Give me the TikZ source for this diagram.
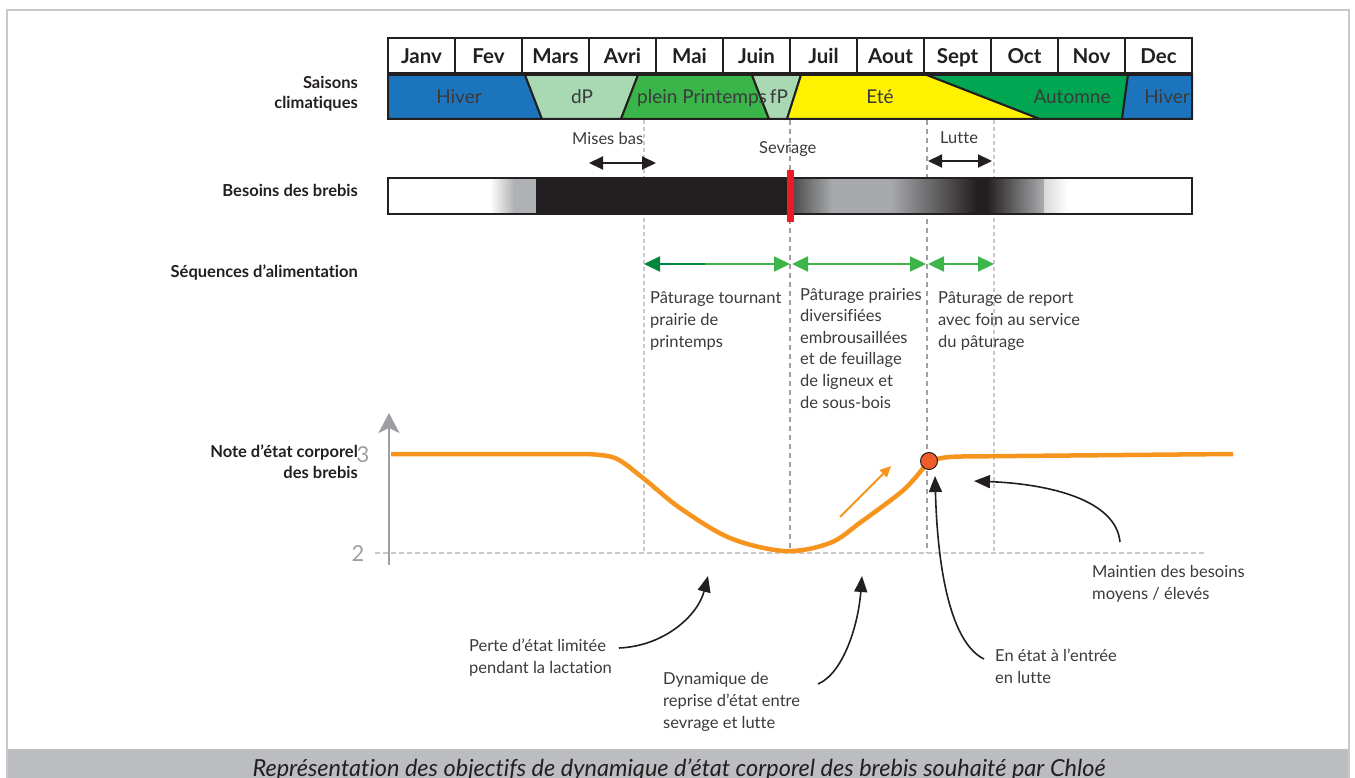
\documentclass[tikz,border=0pt]{standalone}
\usepackage{fontspec}
\setmainfont{Lato}[Ligatures=NoCommon]
\usetikzlibrary{arrows.meta}
\definecolor{hiverblue}{HTML}{1C75BC}
\definecolor{paleGreen}{HTML}{A8D9B3}
\definecolor{springGreen}{HTML}{3AB54A}
\definecolor{summerYellow}{HTML}{FFF200}
\definecolor{autumnGreen}{HTML}{00A651}
\definecolor{barBlack}{HTML}{231F20}
\definecolor{midGray}{HTML}{A7A9AC}
\definecolor{orangeCurve}{HTML}{F7941D}
\definecolor{dotRed}{HTML}{F15A29}
\definecolor{sevRed}{HTML}{ED1C24}
\definecolor{txtGray}{HTML}{3A3A3A}
\definecolor{darkGreenA}{HTML}{00873E}
\definecolor{lightGreenA}{HTML}{3DB54A}
\definecolor{capGray}{HTML}{BCBDC0}
\definecolor{frameGray}{HTML}{C8C8C8}
\definecolor{axisGray}{HTML}{9D9FA2}
\begin{document}
\begin{tikzpicture}[x=1pt,y=-1pt,
  monthlbl/.style={font=\fontsize{20.5}{22}\selectfont\bfseries, text=barBlack, anchor=base, inner sep=0},
  seasonlbl/.style={font=\fontsize{19}{21}\selectfont, text=txtGray, anchor=base, inner sep=0},
  rowlbl/.style={font=\fontsize{16.5}{20}\selectfont\bfseries, text=barBlack, align=right, anchor=base east, inner sep=0},
  desc/.style={font=\fontsize{16.5}{21.6}\selectfont, text=txtGray, align=left, anchor=base west, inner sep=0},
  annot/.style={-{Triangle[length=16pt,width=13pt]}, line width=1.6pt, barBlack},
  dbl/.style={{Triangle[length=14pt,width=13pt]}-{Triangle[length=14pt,width=13pt]}, line width=2pt, barBlack},
  lightdash/.style={draw=frameGray, line width=1.5pt, dash pattern=on 4pt off 3pt},
  darkdash/.style={draw=gray!75, line width=2.5pt, dash pattern=on 5pt off 4pt},
  seasonbox/.style={draw=barBlack, line width=2pt},
  grn/.style={line width=2.3pt, -{Triangle[length=16pt,width=15pt]}},
  grn2/.style={line width=2.3pt, {Triangle[length=16pt,width=15pt]}-{Triangle[length=16pt,width=15pt]}, draw=lightGreenA}
]
\useasboundingbox (0,0) rectangle (1355,778);
\clip (0,0) rectangle (1355,778);

% frame and caption band
\fill[capGray] (7,749) rectangle (1349,790);
\draw[frameGray, line width=1.5pt] (7,790) -- (7,10) -- (1349,10) -- (1349,790);
\node[font=\fontsize{23.5}{25}\selectfont\itshape, text=barBlack, anchor=base, inner sep=0] (caption) at (679,776)
  {Représentation des objectifs de dynamique d’état corporel des brebis souhaité par Chloé};

% row labels
\node[rowlbl] (lblSaisons) at (358,109) {Saisons\\climatiques};
\node[rowlbl] (lblBesoins) at (358,196.5) {Besoins des brebis};
\node[rowlbl] (lblSeq) at (358,277) {Séquences d’alimentation};
\node[rowlbl, font=\fontsize{16.5}{21}\selectfont\bfseries] (lblNote) at (358,478) {Note d’état corporel\\des brebis};

% months
\foreach \m [count=\i from 0] in {Janv,Fev,Mars,Avri,Mai,Juin,Juil,Aout,Sept,Oct,Nov,Dec}{
  \draw[fill=white, draw=barBlack, line width=2pt] (388+67*\i,38) rectangle ++(67,35);
  \node[monthlbl] (month\i) at (421.5+67*\i,63.5) {\m};
}

% seasons
\draw[seasonbox, fill=hiverblue] (388,75) -- (525,75) -- (542,119) -- (388,119) -- cycle;
\draw[seasonbox, fill=paleGreen] (525,75) -- (638,75) -- (621,119) -- (542,119) -- cycle;
\draw[seasonbox, fill=springGreen] (638,75) -- (752,75) -- (769,119) -- (621,119) -- cycle;
\draw[seasonbox, fill=paleGreen] (752,75) -- (801,75) -- (787,119) -- (769,119) -- cycle;
\draw[seasonbox, fill=summerYellow] (801,75) -- (927,75) -- (1040,119) -- (787,119) -- cycle;
\draw[seasonbox, fill=autumnGreen] (927,75) -- (1128,75) -- (1122,119) -- (1040,119) -- cycle;
\draw[seasonbox, fill=hiverblue] (1128,75) -- (1192,75) -- (1192,119) -- (1122,119) -- cycle;
\draw[draw=barBlack, line width=2.5pt] (388,75) rectangle (1192,119);
\node[seasonlbl] (sHiver1) at (459,103.5) {Hiver};
\node[seasonlbl] (sDP) at (582,103.5) {dP};
\node[seasonlbl] (sPP) at (702,103.5) {plein Printemps};
\node[seasonlbl] (sFP) at (779,103.5) {fP};
\node[seasonlbl] (sEte) at (880,103.5) {Eté};
\node[seasonlbl] (sAut) at (1072,103.5) {Automne};
\node[seasonlbl] (sHiver2) at (1167,103.5) {Hiver};

% event labels
\node[desc] (misesbas) at (572,145) {Mises bas};
\node[desc] (sevrage) at (759,154) {Sevrage};
\node[desc] (lutte) at (940,144) {Lutte};

% vertical dashed lines
\draw[lightdash] (644,120) -- (644,553);
\draw[darkdash] (790,120) -- (790,553);
\draw[darkdash] (927,120) -- (927,553);
\draw[lightdash] (994,120) -- (994,553);
\draw[draw=frameGray, line width=1.5pt, dash pattern=on 5pt off 3pt] (375,553) -- (1205,553);

% besoins bar
\fill[white] (388,178) rectangle (490,214);
\shade[left color=white, right color=midGray!90] (490,178) rectangle (514,214);
\fill[midGray!90] (514,178) rectangle (536,214);
\fill[barBlack] (536,178) rectangle (791,214);
\shade[left color=black!72, right color=midGray] (791,178) rectangle (832,214);
\fill[midGray] (832,178) rectangle (890,214);
\shade[left color=midGray, right color=barBlack] (890,178) rectangle (977,214);
\fill[barBlack] (977,178) rectangle (987,214);
\shade[left color=barBlack, right color=midGray] (987,178) rectangle (1043,214);
\shade[left color=black!15, right color=white] (1044,178) rectangle (1068,214);
\fill[white] (1068,178) rectangle (1192,214);
\draw[midGray, line width=0.8pt] (1043.5,178) -- (1043.5,214);
\draw[barBlack, line width=2pt] (388,178) rectangle (1192,214);
\fill[sevRed] (787,170) rectangle (794,222);

% double arrows
\coordinate (mbL) at (589,163); \coordinate (mbR) at (656,163);
\coordinate (luL) at (928,161); \coordinate (luR) at (992,161);
\draw[dbl] (mbL) -- (mbR);
\draw[dbl] (luL) -- (luR);

% feeding sequences
\coordinate (g0) at (644,264); \coordinate (gm) at (705,264); \coordinate (g1) at (790,264);
\coordinate (g1b) at (792,264); \coordinate (g2) at (926,264); \coordinate (g2b) at (928,264); \coordinate (g3) at (994,264);
\draw[grn, draw=darkGreenA, fill=darkGreenA] (gm) -- (g0);
\draw[grn, draw=lightGreenA, fill=lightGreenA] (gm) -- (g1);
\draw[grn2, fill=lightGreenA] (g1b) -- (g2);
\draw[grn2, fill=lightGreenA] (g2b) -- (g3);

\node[desc] (seq1) at (650,347) {Pâturage tournant\\prairie de\\printemps};
\node[desc] (seq2) at (800,408) {Pâturage prairies\\diversifiées\\embrousaillées\\et de feuillage\\de ligneux et\\de sous-bois};
\node[desc] (seq3) at (938,347) {Pâturage de report\\avec foin au service\\du pâturage};

% axis
\coordinate (axB) at (389,565); \coordinate (axT) at (389,413);
\draw[axisGray, line width=2.5pt, -{Stealth[length=20pt,width=21pt,inset=5pt]}] (axB) -- (axT);
\node[font=\fontsize{22}{24}\selectfont, text=axisGray, anchor=base, inner sep=0] (tick3) at (363,462) {3};
\node[font=\fontsize{22}{24}\selectfont, text=axisGray, anchor=base, inner sep=0] (tick2) at (358,561) {2};

% body condition curve
\draw[orangeCurve, line width=4.5pt, line join=round]
  (391,454) -- (585,454)
  plot[smooth, tension=0.55] coordinates {(585,454) (615,458) (643,478) (680,508) (730,538) (785,551) (830,543) (861,522) (900,493) (916,477) (929,462) (945,457.5) (962,456.5)}
  -- (1233,454);
\coordinate (oaS) at (840,517); \coordinate (oaE) at (891,466);
\draw[orangeCurve, line width=2pt, -{Triangle[length=11pt,width=10pt]}] (oaS) -- (oaE);
\node[circle, fill=dotRed, draw=barBlack, line width=1pt, minimum size=17pt, inner sep=0] (dot) at (929,461) {};

% annotations
\node[desc] (perte) at (469,673) {Perte d’état limitée\\pendant la lactation};
\node[desc] (dyn) at (663,728) {Dynamique de\\reprise d’état entre\\sevrage et lutte};
\node[desc] (enetat) at (995,683) {En état à l’entrée\\en lutte};
\node[desc] (maintien) at (1092,599) {Maintien des besoins\\moyens / élevés};

\coordinate (pS) at (619,648); \coordinate (pT) at (708,576);
\coordinate (dS) at (818,684); \coordinate (dT) at (862,576);
\coordinate (eS) at (984,659); \coordinate (eT) at (935,476);
\coordinate (mS) at (1120,542); \coordinate (mT) at (974,481);
\draw[annot] (pS) .. controls (665,646) and (698,615) .. (pT);
\draw[annot] (dS) .. controls (842,674) and (858,628) .. (dT);
\draw[annot] (eS) .. controls (955,645) and (938,585) .. (eT);
\draw[annot] (mS) .. controls (1116,500) and (1050,484) .. (mT);
\end{tikzpicture}
\end{document}
